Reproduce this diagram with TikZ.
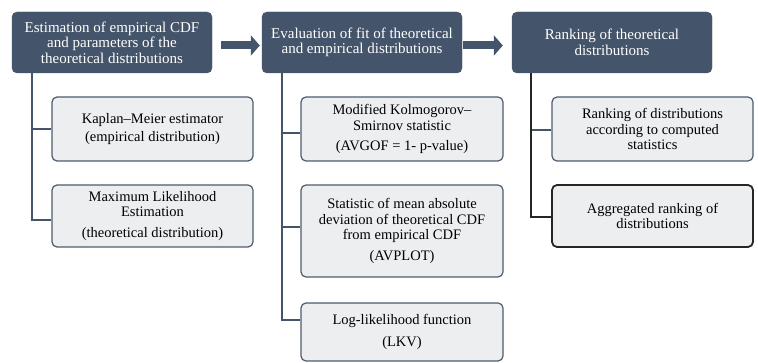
\documentclass[tikz,border=0pt]{standalone}
\usepackage{fontspec}
\setmainfont{Liberation Serif}
\usetikzlibrary{calc,arrows.meta}
\definecolor{hdrblue}{HTML}{44546A}
\definecolor{subgray}{HTML}{EDEEF0}
\definecolor{subline}{HTML}{4E5B6E}
\begin{document}
\begin{tikzpicture}[x=1pt,y=1pt,
  head/.style={draw=hdrblue,fill=hdrblue,text=white,rounded corners=5pt,
    minimum width=200pt,minimum height=61pt,inner sep=0pt,align=center,
    font=\fontsize{15}{15.5}\selectfont},
  sub/.style={draw=subline,line width=1.2pt,fill=subgray,rounded corners=5pt,
    minimum width=201pt,inner sep=0pt,align=center,
    font=\fontsize{14.5}{15.5}\selectfont},
  link/.style={draw=hdrblue,line width=1.6pt},
  bigarrow/.style={draw=hdrblue,line width=8pt,-{Triangle[width=20pt,length=9pt]}}]
\useasboundingbox (0,0) rectangle (758,-363);
\node[head] (est) at (112,-42.5) {Estimation of empirical CDF\\and parameters of the\\theoretical distributions};
\node[head] (fit) at (362,-42.5) {Evaluation of fit of theoretical\\and empirical distributions};
\node[head] (rank) at (612,-42.5) {Ranking of theoretical\\distributions};
\draw[bigarrow] ([xshift=9pt,yshift=-3pt]est.east) -- ([xshift=-2pt,yshift=-3pt]fit.west);
\draw[bigarrow] ([xshift=1pt,yshift=-3pt]fit.east) -- ([xshift=-9pt,yshift=-3pt]rank.west);
\node[sub,minimum height=64pt] (km) at (152.5,-129) {Kaplan--Meier estimator\\[2pt](empirical distribution)};
\node[sub,minimum height=62pt] (mle) at (152.5,-216) {Maximum Likelihood\\Estimation\\[5pt](theoretical distribution)};
\node[sub,minimum width=202pt,minimum height=64pt] (ks) at (402,-129) {Modified Kolmogorov--\\Smirnov statistic\\[5pt](AVGOF = 1- p-value)};
\node[sub,minimum width=202pt,minimum height=92pt] (avplot) at (402,-231) {Statistic of mean absolute\\deviation of theoretical CDF\\from empirical CDF\\[5pt](AVPLOT)};
\node[sub,minimum width=202pt,minimum height=58pt] (lkv) at (402,-332) {Log-likelihood function\\[6pt](LKV)};
\node[sub,minimum height=64pt] (order) at (652.5,-129) {Ranking of distributions\\according to computed\\statistics};
\node[sub,draw=black!85,line width=1.8pt,minimum height=62pt] (aggr) at (652.5,-216) {Aggregated ranking of\\distributions};
\draw[link] ([xshift=20pt]est.south west) |- (km.west);
\draw[link] ([xshift=20pt]est.south west) |- ([yshift=-4pt]mle.west);
\draw[link] ([xshift=20pt]fit.south west) |- ([yshift=-4pt]ks.west);
\draw[link] ([xshift=20pt]fit.south west) |- ([yshift=4pt]avplot.west);
\draw[link] ([xshift=20pt]fit.south west) |- ([yshift=12pt]lkv.west);
\draw[link] ([xshift=19pt]rank.south west) |- ([yshift=-1pt]order.west);
\draw[link,draw=black!85] ([xshift=19pt]rank.south west) |- ([yshift=-1pt]aggr.west);
\end{tikzpicture}
\end{document}
